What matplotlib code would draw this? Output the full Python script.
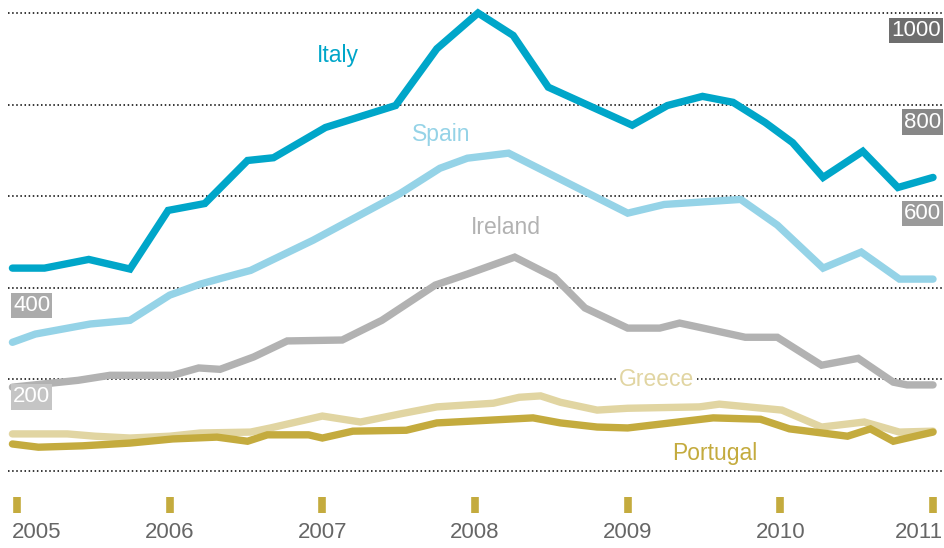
import matplotlib
matplotlib.use('Agg')
import matplotlib.pyplot as plt

# values, x in decimal years
italy_x = [2004.97, 2005.18, 2005.47, 2005.74, 2005.99, 2006.23, 2006.51, 2006.68, 2007.02, 2007.48,
           2007.75, 2008.02, 2008.25, 2008.48, 2009.03, 2009.26, 2009.49, 2009.69, 2009.90, 2010.08,
           2010.28, 2010.54, 2010.77, 2011.00]
italy_y = [443, 443, 462, 441, 569, 584, 678, 684, 750, 798, 922, 1000, 951, 838, 755, 798, 818, 805,
           761, 717, 641, 698, 619, 641]

spain_x = [2004.97, 2005.12, 2005.48, 2005.74, 2006.00, 2006.20, 2006.34, 2006.53, 2006.94, 2007.51,
           2007.77, 2007.95, 2008.22, 2009.00, 2009.24, 2009.74, 2009.98, 2010.28, 2010.53, 2010.78, 2011.00]
spain_y = [281, 299, 321, 329, 384, 408, 421, 438, 504, 606, 661, 683, 694, 563, 582, 593, 537, 443,
           478, 419, 419]

ireland_x = [2004.97, 2005.40, 2005.61, 2006.02, 2006.19, 2006.33, 2006.55, 2006.77, 2007.13, 2007.39,
             2007.74, 2007.95, 2008.26, 2008.52, 2008.72, 2009.00, 2009.21, 2009.34, 2009.55, 2009.77,
             2009.98, 2010.27, 2010.51, 2010.74, 2010.83, 2011.00]
ireland_y = [183, 198, 209, 209, 225, 222, 249, 284, 286, 329, 406, 430, 467, 423, 356, 312, 312, 323,
             308, 292, 292, 231, 246, 194, 188, 188]

greece_x = [2004.97, 2005.33, 2005.51, 2005.74, 2006.00, 2006.20, 2006.53, 2006.66, 2007.00, 2007.25,
            2007.53, 2007.75, 2008.12, 2008.29, 2008.43, 2008.56, 2008.80, 2009.00, 2009.47, 2009.60,
            2010.01, 2010.27, 2010.55, 2010.78, 2011.00]
greece_y = [81, 81, 76, 72, 76, 83, 85, 94, 120, 107, 126, 140, 148, 161, 164, 150, 133, 137, 140, 146,
            133, 96, 107, 85, 87]

portugal_x = [2004.97, 2005.14, 2005.43, 2005.74, 2006.02, 2006.31, 2006.51, 2006.64, 2006.91, 2007.00,
              2007.20, 2007.55, 2007.75, 2008.38, 2008.56, 2008.80, 2009.00, 2009.56, 2009.87, 2010.06,
              2010.44, 2010.59, 2010.74, 2011.00]
portugal_y = [59, 52, 55, 61, 70, 74, 65, 79, 79, 72, 87, 89, 105, 116, 105, 96, 94, 116, 113, 92, 76,
              92, 65, 85]

years = [2005, 2006, 2007, 2008, 2009, 2010, 2011]
grid_vals = [0, 200, 400, 600, 800, 1000]

c_italy = '#00a6c9'
c_spain = '#95d3e7'
c_ireland = '#b2b2b2'
c_greece = '#e1d5a2'
c_portugal = '#c4ab3e'

plt.rcParams['font.family'] = ['Liberation Sans', 'DejaVu Sans']

fig = plt.figure(figsize=(9.45, 5.48), dpi=100)
ax = fig.add_axes([0, 0, 1, 1])
ax.set_xlim(2004.8886, 2011.0785)
ax.set_ylim(-168.1, 1028.4)
ax.axis('off')

for v in grid_vals:
    ax.axhline(v, xmin=8 / 945, xmax=943 / 945, color='black', lw=1.1,
               linestyle=(0, (1, 1.7)), zorder=1)

kw = dict(lw=5.3, solid_capstyle='round', solid_joinstyle='miter', zorder=3)
ax.plot(ireland_x, ireland_y, color=c_ireland, **kw)
ax.plot(greece_x, greece_y, color=c_greece, **kw)
ax.plot(portugal_x, portugal_y, color=c_portugal, **kw)
ax.plot(spain_x, spain_y, color=c_spain, **kw)
ax.plot(italy_x, italy_y, color=c_italy, **kw)

# series labels
ax.text(2007.10, 908, 'Italy', color=c_italy, fontsize=16.5, ha='center', va='center')
ax.text(2007.78, 734, 'Spain', color=c_spain, fontsize=16.5, ha='center', va='center')
ax.text(2008.20, 531, 'Ireland', color=c_ireland, fontsize=16.5, ha='center', va='center')
ax.text(2009.19, 199, 'Greece', color=c_greece, fontsize=16.5, ha='center', va='center', zorder=4,
        bbox=dict(boxstyle='square,pad=0.1', fc='white', ec='none'))
ax.text(2009.57, 39, 'Portugal', color=c_portugal, fontsize=16.5, ha='center', va='center')

# value boxes on the gridlines
box_style = [(1000, '#6e6e6e', 'right'), (800, '#878787', 'right'), (600, '#9a9a9a', 'right'),
             (400, '#ababab', 'left'), (200, '#c5c5c5', 'left')]
for v, col, side in box_style:
    if side == 'right':
        xy, off = (1, v), (-4, -7)
    else:
        xy, off = (0, v), (13, -7)
    ax.annotate(str(v), xy=xy, xycoords=('axes fraction', 'data'), xytext=off,
                textcoords='offset pixels', ha=side, va='top', color='white', fontsize=16,
                zorder=5, bbox=dict(boxstyle='square,pad=0.1', fc=col, ec='none'))

# year ticks
ax.vlines(years, -57, -92, color=c_portugal, lw=5.5)
for i, yr in enumerate(years):
    if i == 0:
        ax.text(yr - 0.033, -135, str(yr), ha='left', va='center', fontsize=16, color='#666666')
    elif i == len(years) - 1:
        ax.text(yr + 0.065, -135, str(yr), ha='right', va='center', fontsize=16, color='#666666')
    else:
        ax.text(yr, -135, str(yr), ha='center', va='center', fontsize=16, color='#666666')

fig.savefig('out.png', dpi=100)
